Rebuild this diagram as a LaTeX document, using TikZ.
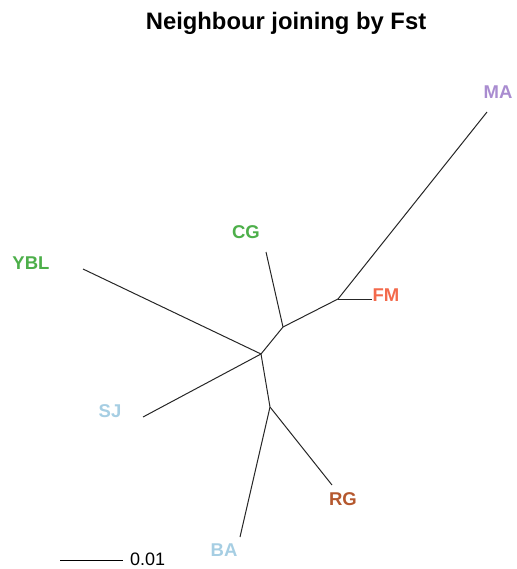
\documentclass[tikz,border=0pt]{standalone}
\usepackage{fontspec}
\setmainfont{Liberation Sans}
\definecolor{cMA}{HTML}{A98CD0}
\definecolor{cFM}{HTML}{F36A4C}
\definecolor{cBA}{HTML}{A6CEE3}
\definecolor{cRG}{HTML}{B5582E}
\definecolor{cCG}{HTML}{4DAF4A}
\definecolor{edgecol}{HTML}{262626}
\begin{document}
\begin{tikzpicture}[x=1pt,y=-1pt,
  branch/.style={draw=edgecol,line width=1pt},
  tip/.style={font=\fontsize{18.5}{20}\selectfont\bfseries,inner sep=0pt,anchor=base}]
\useasboundingbox (0,0) rectangle (516,569);
\node[font=\fontsize{23.8}{26}\selectfont\bfseries,anchor=base] (title) at (286,30) {Neighbour joining by Fst};
% internal nodes of the tree
\coordinate (n1) at (261,354);
\coordinate (n2) at (283,327);
\coordinate (n3) at (338,299);
\coordinate (n4) at (270,407);
% leaf ends
\coordinate (tMA) at (487,112);
\coordinate (tFM) at (372,299);
\coordinate (tCG) at (266,252);
\coordinate (tYBL) at (83,269);
\coordinate (tSJ) at (143,417);
\coordinate (tRG) at (332,485);
\coordinate (tBA) at (240,537);
% branches
\draw[branch] (n1) -- (n2);
\draw[branch] (n2) -- (n3);
\draw[branch] (n3) -- (tMA);
\draw[branch] (n3) -- (tFM);
\draw[branch] (n2) -- (tCG);
\draw[branch] (n1) -- (tYBL);
\draw[branch] (n1) -- (tSJ);
\draw[branch] (n1) -- (n4);
\draw[branch] (n4) -- (tRG);
\draw[branch] (n4) -- (tBA);
% tip labels
\node[tip,text=cMA] (lMA) at (498,99) {MA};
\node[tip,text=cFM] (lFM) at (386,301) {FM};
\node[tip,text=cCG] (lCG) at (246,238) {CG};
\node[tip,text=cCG] (lYBL) at (31,269) {YBL};
\node[tip,text=cBA] (lSJ) at (110,417) {SJ};
\node[tip,text=cRG] (lRG) at (343,505) {RG};
\node[tip,text=cBA] (lBA) at (224,556) {BA};
% scale bar
\coordinate (s0) at (60,560);
\coordinate (s1) at (123,560);
\draw[draw=black,line width=1pt] (s0) -- (s1);
\node[font=\fontsize{18}{20}\selectfont,inner sep=0pt,anchor=base west] (scale) at (130,565) {0.01};
\end{tikzpicture}
\end{document}
